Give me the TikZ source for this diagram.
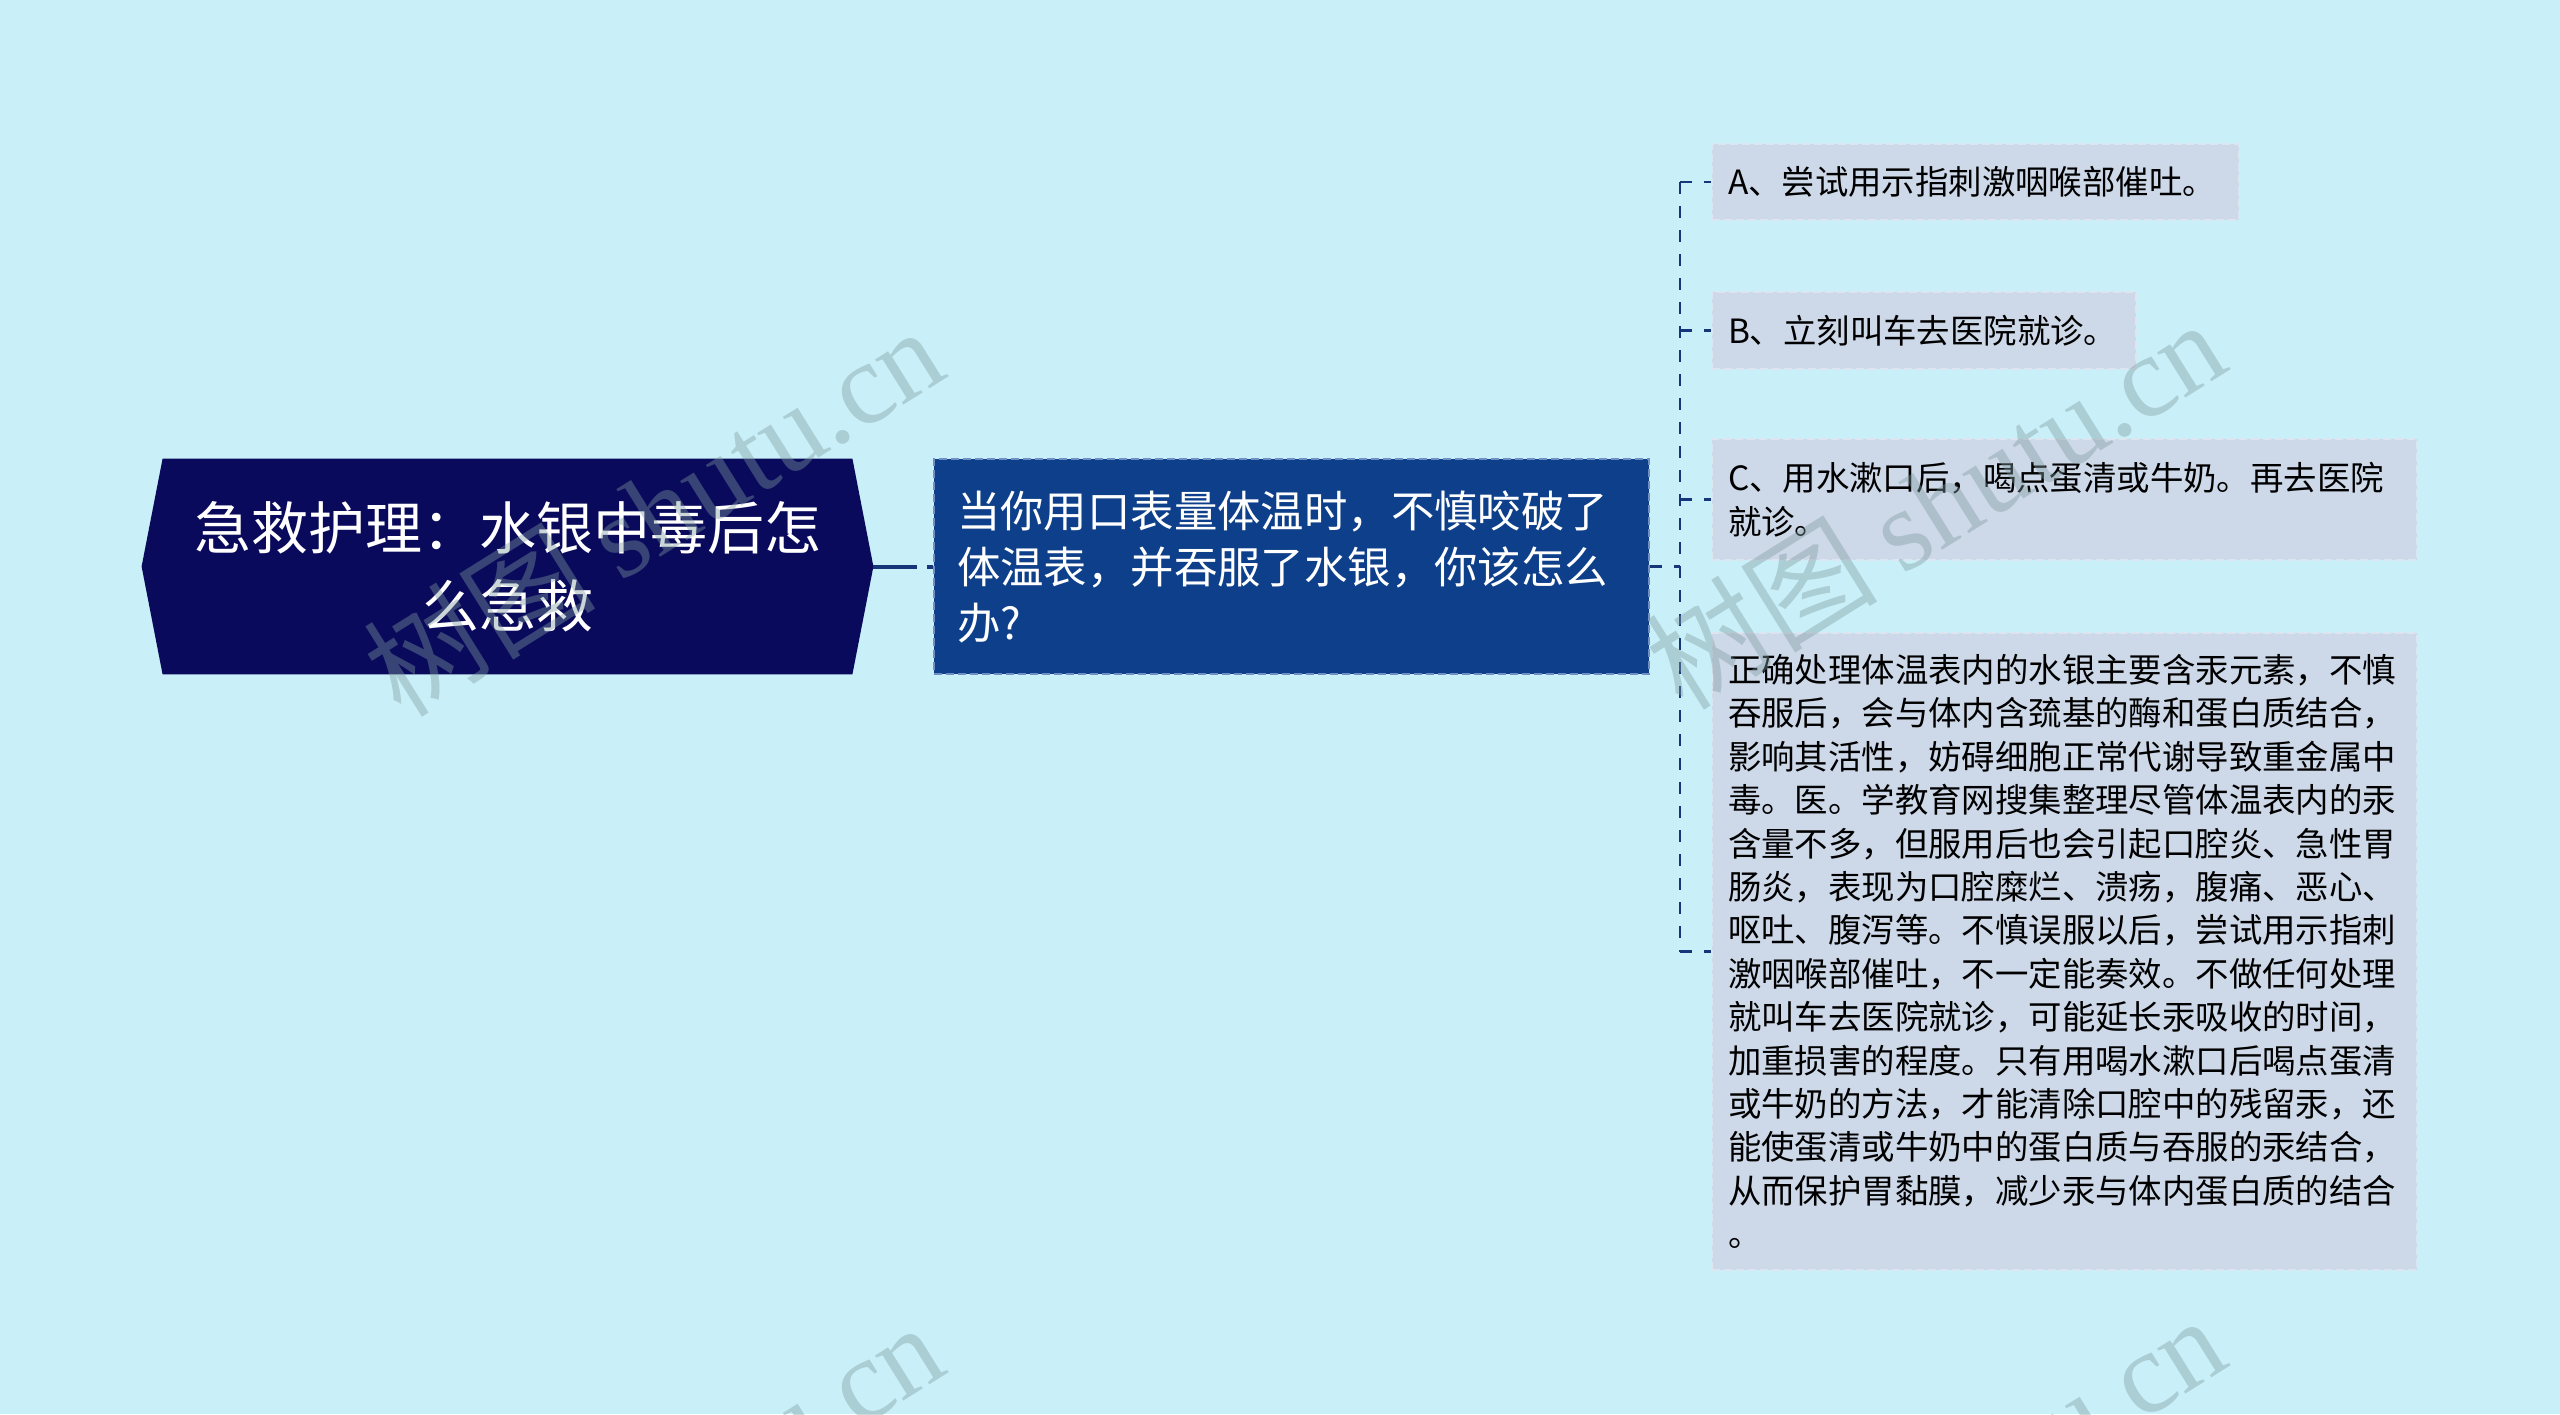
\documentclass[tikz,border=0pt]{standalone}
\usepackage{fontspec}
\setmainfont{Noto Sans CJK SC}
\newfontfamily\cjkfont{Noto Sans CJK SC}
\newfontfamily\wmfont{Liberation Serif}
\definecolor{bgc}{HTML}{C9EFF8}
\definecolor{rootc}{HTML}{0A0A5C}
\definecolor{midc}{HTML}{0E3F8A}
\definecolor{midb}{HTML}{6F8FC4}
\definecolor{leafc}{HTML}{CDD8E8}
\definecolor{leafb}{HTML}{DDE5F0}
\definecolor{linec}{HTML}{16367A}
\definecolor{wmc}{HTML}{7F9A9E}
\tikzset{
  rootbox/.style={minimum width=365.5pt, minimum height=107.5pt, inner sep=0pt,
    text=white, align=center, font=\fontsize{28.5pt}{39pt}\selectfont},
  midbox/.style={fill=midc, draw=midb, line width=1pt, dash pattern=on 4pt off 2pt,
    minimum width=357.5pt, minimum height=107.5pt, inner xsep=11.5pt, inner ysep=0pt,
    text width=334.5pt, align=left, text=white, font=\fontsize{21.7pt}{28pt}\selectfont},
  leafbox/.style={fill=leafc, draw=leafb, line width=1pt, dash pattern=on 4pt off 2pt,
    anchor=west, inner xsep=8pt, inner ysep=0pt, align=left, text=black,
    font=\fontsize{16.7pt}{21.7pt}\selectfont},
  solidcon/.style={draw=linec, line width=2pt, dash pattern=on 22pt off 5pt},
  dashcon/.style={draw=linec, line width=1.4pt, dash pattern=on 6pt off 6pt},
  wmark/.style={text=wmc, text opacity=0.4, rotate=32, font=\fontsize{58pt}{60pt}\selectfont}
}
\begin{document}
\begin{tikzpicture}[x=0.5pt, y=-0.5pt]
\useasboundingbox (0,0) rectangle (2560,1414);
\clip (0,0) rectangle (2560,1414);
\fill[bgc] (0,0) rectangle (2560,1414);

% root
\node[rootbox] (root) at (507.5,566.5) {};
\fill[rootc] (root.west) -- ([xshift=10.5pt]root.north west) -- ([xshift=-10.5pt]root.north east)
  -- (root.east) -- ([xshift=-10.5pt]root.south east) -- ([xshift=10.5pt]root.south west) -- cycle;
\node[rootbox] (roottext) at (root.center) {急救护理：水银中毒后怎\\么急救};

% middle
\node[midbox] (mid) at (1291.5,566.5) {当你用口表量体温时，不慎咬破了\\体温表，并吞服了水银，你该怎么\\办?};

% leaves
\node[leafbox, minimum width=263.5pt, minimum height=38pt, text width=247.5pt] (A) at (1711,182) {A、尝试用示指刺激咽喉部催吐。};
\node[leafbox, minimum width=212pt, minimum height=38.5pt, text width=196pt] (B) at (1711,330.5) {B、立刻叫车去医院就诊。};
\node[leafbox, minimum width=352.5pt, minimum height=60.5pt, text width=336.5pt] (C) at (1711,499.5) {C、用水漱口后，喝点蛋清或牛奶。再去医院\\就诊。};
\node[leafbox, minimum width=352.5pt, minimum height=318.5pt, text width=336.5pt] (D) at (1711,951.5) {正确处理体温表内的水银主要含汞元素，不慎\\吞服后，会与体内含巯基的酶和蛋白质结合，\\影响其活性，妨碍细胞正常代谢导致重金属中\\毒。医。学教育网搜集整理尽管体温表内的汞\\含量不多，但服用后也会引起口腔炎、急性胃\\肠炎，表现为口腔糜烂、溃疡，腹痛、恶心、\\呕吐、腹泻等。不慎误服以后，尝试用示指刺\\激咽喉部催吐，不一定能奏效。不做任何处理\\就叫车去医院就诊，可能延长汞吸收的时间，\\加重损害的程度。只有用喝水漱口后喝点蛋清\\或牛奶的方法，才能清除口腔中的残留汞，还\\能使蛋清或牛奶中的蛋白质与吞服的汞结合，\\从而保护胃黏膜，减少汞与体内蛋白质的结合\\。};

% connectors
\coordinate (jn) at (1680,566.5);
\draw[solidcon] (root.east) -- (mid.west);
\draw[dashcon] (mid.east) -- (jn);
\draw[dashcon] (jn|-A.west) -- (jn|-D.west);
\draw[dashcon] (jn|-A.west) -- (A.west);
\draw[dashcon] (jn|-B.west) -- (B.west);
\draw[dashcon] (jn|-C.west) -- (C.west);
\draw[dashcon] (jn|-D.west) -- (D.west);

% watermarks
\node[wmark] (w1) at (653,510) {\cjkfont 树图 \wmfont shutu.cn};
\node[wmark] (w2) at (1935,503) {\cjkfont 树图 \wmfont shutu.cn};
\node[wmark] (w3) at (653,1506) {\cjkfont 树图 \wmfont shutu.cn};
\node[wmark] (w4) at (1935,1499) {\cjkfont 树图 \wmfont shutu.cn};
\end{tikzpicture}
\end{document}
